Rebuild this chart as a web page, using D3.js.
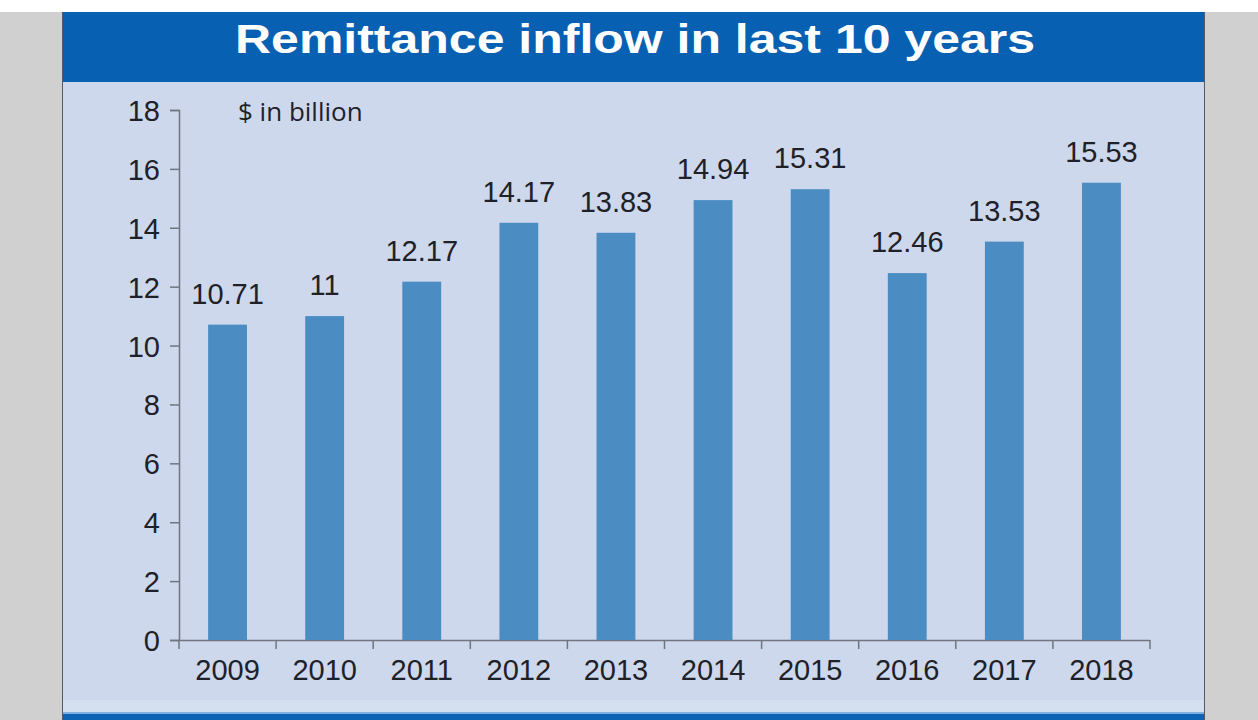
<!DOCTYPE html>
<html>
<head>
<meta charset="utf-8">
<script src="https://cdn.jsdelivr.net/npm/d3@7"></script>
<style>
  html, body { margin: 0; padding: 0; background: #ffffff; }
  svg { display: block; }
</style>
</head>
<body>
<svg id="chart" width="1258" height="720"></svg>
<script>
const years = ["2009","2010","2011","2012","2013","2014","2015","2016","2017","2018"];
const remittance = [10.71, 11, 12.17, 14.17, 13.83, 14.94, 15.31, 12.46, 13.53, 15.53];
const valueLabels = ["10.71","11","12.17","14.17","13.83","14.94","15.31","12.46","13.53","15.53"];
const yTicks = [0, 2, 4, 6, 8, 10, 12, 14, 16, 18];
const titleText = "Remittance inflow in last 10 years";
const unitText = "$ in billion";

const svg = d3.select("#chart");
const W = 1258, H = 720;
const FONT = "Liberation Sans, Arial, sans-serif";
const TXT = "#1e2128";

// backgrounds
svg.append("rect").attr("x", 0).attr("y", 0).attr("width", W).attr("height", H).attr("fill", "#ffffff");
svg.append("rect").attr("x", 0).attr("y", 12).attr("width", 62).attr("height", H - 12).attr("fill", "#d0d0d0");
svg.append("rect").attr("x", 1204).attr("y", 12).attr("width", W - 1204).attr("height", H - 12).attr("fill", "#d0d0d0");
svg.append("rect").attr("x", 62).attr("y", 82).attr("width", 1142).attr("height", 631).attr("fill", "#cdd8ed");
svg.append("rect").attr("x", 62).attr("y", 700).attr("width", 1142).attr("height", 13).attr("fill", "#d4dff0");
svg.append("rect").attr("x", 62).attr("y", 12).attr("width", 1142).attr("height", 70).attr("fill", "#0860b2");
svg.append("rect").attr("x", 62).attr("y", 713).attr("width", 1142).attr("height", 7).attr("fill", "#0d62b3");
svg.append("rect").attr("x", 62).attr("y", 712).attr("width", 1142).attr("height", 2).attr("fill", "#7fb0e0");
svg.append("line").attr("x1", 62.5).attr("x2", 62.5).attr("y1", 12).attr("y2", H).attr("stroke", "#555a66").attr("stroke-width", 1);
svg.append("line").attr("x1", 1204.5).attr("x2", 1204.5).attr("y1", 12).attr("y2", H).attr("stroke", "#555a66").attr("stroke-width", 1);

// title
svg.append("text")
  .attr("x", 235).attr("y", 53)
  .attr("font-family", FONT)
  .attr("font-weight", "bold")
  .attr("font-size", 40)
  .attr("textLength", 800)
  .attr("lengthAdjust", "spacingAndGlyphs")
  .attr("fill", "#ffffff")
  .text(titleText);

// scales
const x = d3.scaleBand().domain(years).range([179, 1150]).paddingInner(0.6).paddingOuter(0.3);
const y = d3.scaleLinear().domain([0, 18]).range([640, 110]);

// axes
const axisColor = "#70757f";
const yAxis = svg.append("g").attr("transform", "translate(179,0)")
  .call(d3.axisLeft(y).tickValues(yTicks).tickSize(9).tickPadding(10).tickFormat(d3.format("d")));
yAxis.select(".domain").attr("stroke", axisColor).attr("stroke-width", 1.5).attr("d", "M-9,110.5H0.5V640.5");
yAxis.selectAll(".tick line").attr("stroke", axisColor).attr("stroke-width", 1.5);
yAxis.selectAll(".tick text")
  .attr("font-family", FONT)
  .attr("font-size", 29).attr("fill", TXT).attr("dy", "0.36em");

// x axis with ticks at band boundaries
const xg = svg.append("g").attr("transform", "translate(0,640)");
xg.append("line").attr("x1", 170).attr("x2", 1150).attr("y1", 0.5).attr("y2", 0.5)
  .attr("stroke", axisColor).attr("stroke-width", 1.5);
const step = x.step();
const bounds = years.map(d => x(d) + x.bandwidth() / 2 - step / 2).concat([x(years[years.length - 1]) + x.bandwidth() / 2 + step / 2]);
xg.selectAll("line.xt").data(bounds).enter().append("line").attr("class", "xt")
  .attr("x1", d => d).attr("x2", d => d).attr("y1", 0).attr("y2", 9)
  .attr("stroke", axisColor).attr("stroke-width", 1.5);
xg.selectAll("text.xl").data(years).enter().append("text").attr("class", "xl")
  .attr("x", d => x(d) + x.bandwidth() / 2).attr("y", 40)
  .attr("text-anchor", "middle")
  .attr("font-family", FONT)
  .attr("font-size", 29).attr("fill", TXT)
  .text(d => d);

// bars
svg.selectAll("rect.bar").data(years).enter().append("rect").attr("class", "bar")
  .attr("x", d => x(d))
  .attr("width", x.bandwidth())
  .attr("y", (d, i) => y(remittance[i]))
  .attr("height", (d, i) => 640 - y(remittance[i]))
  .attr("fill", "#4b8cc2");

// value labels
svg.selectAll("text.val").data(years).enter().append("text").attr("class", "val")
  .attr("x", d => x(d) + x.bandwidth() / 2)
  .attr("y", (d, i) => y(remittance[i]) - 21)
  .attr("text-anchor", "middle")
  .attr("font-family", FONT)
  .attr("font-size", 29).attr("fill", TXT)
  .text((d, i) => valueLabels[i]);

// unit label
svg.append("text")
  .attr("x", 238).attr("y", 121)
  .attr("font-family", "Open Sans, Noto Sans, sans-serif")
  .attr("font-size", 26).attr("fill", TXT)
  .text(unitText);
</script>
</body>
</html>
